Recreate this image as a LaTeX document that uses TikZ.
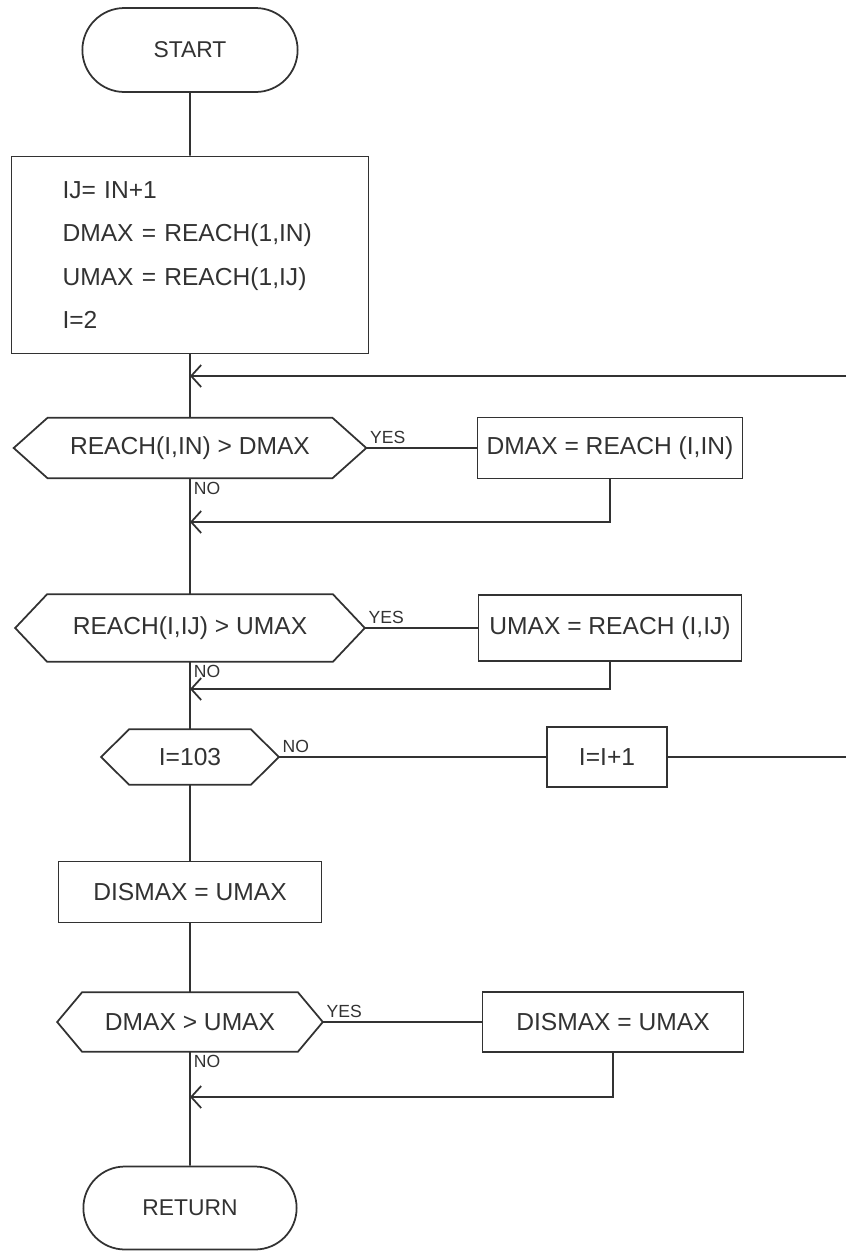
\documentclass[tikz,border=0pt]{standalone}
\usepackage{fontspec}
\setmainfont{Liberation Sans}
\usepackage{tikz}
\usetikzlibrary{shapes.misc, arrows.meta}
\definecolor{Ink}{RGB}{50,50,50}
% outline of a decision node: name, depth of the side points
\newcommand{\testoutline}[2]{%
  \draw[flow] (#1.west) -- ([xshift=#2]#1.north west)
    -- ([xshift=-#2]#1.north east) -- (#1.east)
    -- ([xshift=-#2]#1.south east) -- ([xshift=#2]#1.south west) -- cycle;}

\begin{document}
\begin{tikzpicture}[x=0.02cm, y=-0.02cm,
      term/.style={rounded rectangle, draw=Ink, line width=1pt, text=Ink,
                   minimum width=4.54cm, minimum height=1.68cm,
                   font=\fontsize{13}{16}\selectfont},
      proc/.style={rectangle, draw=Ink, line width=1pt, text=Ink,
                   font=\fontsize{14}{17}\selectfont},
      test/.style 2 args={rectangle, text=Ink, minimum width=#1,
                   minimum height=#2, inner sep=0pt,
                   font=\fontsize{14}{17}\selectfont},
      flow/.style={draw=Ink, line width=1pt},
      back/.style={flow, -{Straight Barb[length=2mm, width=4.4mm]}},
      lbl/.style={font=\fontsize{10}{11}\selectfont, text=Ink, inner sep=2pt}
    ]
    \useasboundingbox (0,0) rectangle (846,1252);

    % Main column
    \node[term] (start) at (190,50) {START};
    \node[proc, minimum width=7.14cm, minimum height=3.94cm, text width=5.1cm,
          align=left, font=\fontsize{14}{24.6}\selectfont] (init) at (190,255)
        {IJ= IN+1\\DMAX = REACH(1,IN)\\UMAX = REACH(1,IJ)\\I=2};
    \node[test={7.04cm}{1.2cm}]  (d1) at (190,448) {REACH(I,IN) > DMAX};
    \node[test={6.98cm}{1.34cm}] (d2) at (190,628) {REACH(I,IJ) > UMAX};
    \node[test={3.54cm}{1.1cm}]  (d3) at (190,757) {I=103};
    \node[proc, minimum width=5.26cm, minimum height=1.22cm] (b4) at (190,892)
        {DISMAX = UMAX};
    \node[test={5.3cm}{1.18cm}]  (d4) at (190,1022) {DMAX > UMAX};
    \node[term, minimum width=4.5cm, minimum height=1.66cm] (ret) at (190,1208)
        {RETURN};

    % Decision outlines
    \testoutline{d1}{0.68cm}
    \testoutline{d2}{0.64cm}
    \testoutline{d3}{0.56cm}
    \testoutline{d4}{0.5cm}

    % Right column
    \node[proc, minimum width=5.3cm, minimum height=1.22cm] (b1) at (610,448)
        {DMAX = REACH (I,IN)};
    \node[proc, minimum width=5.26cm, minimum height=1.32cm] (b2) at (610,628)
        {UMAX = REACH (I,IJ)};
    \node[proc, minimum width=2.4cm, minimum height=1.2cm] (b3) at (607,757)
        {I=I+1};
    \node[proc, minimum width=5.22cm, minimum height=1.2cm] (b5) at (613,1022)
        {DISMAX = UMAX};

    % Joins
    \coordinate (j1) at (190,376);
    \coordinate (loopR) at (846,376);
    \coordinate (j2) at (190,522);
    \coordinate (j3) at (190,689);
    \coordinate (loopR2) at (846,757);
    \coordinate (j4) at (190,1097);

    % Connectors
    \draw[flow] (start) -- (init);
    \draw[flow] (init) -- (d1);
    \draw[back] (loopR) -- (j1);
    \draw[flow] (d1) -- (b1);
    \draw[back] (b1.south) |- (j2);
    \draw[flow] (d1) -- (d2);
    \draw[flow] (d2) -- (b2);
    \draw[back] (b2.south) |- (j3);
    \draw[flow] (d2) -- (d3);
    \draw[flow] (d3) -- (b3);
    \draw[flow] (b3) -- (loopR2);
    \draw[flow] (d3) -- (b4);
    \draw[flow] (b4) -- (d4);
    \draw[flow] (d4) -- (b5);
    \draw[back] (b5.south) |- (j4);
    \draw[flow] (d4) -- (ret);

    % Yes / No
    \node[lbl, anchor=south west] (y1) at (d1.east) {YES};
    \node[lbl, anchor=north west] (n1) at (d1.south) {NO};
    \node[lbl, anchor=south west] (y2) at (d2.east) {YES};
    \node[lbl, anchor=north west] (n2) at (d2.south) {NO};
    \node[lbl, anchor=south west] (n3) at (d3.east) {NO};
    \node[lbl, anchor=south west] (y4) at (d4.east) {YES};
    \node[lbl, anchor=north west] (n4) at (d4.south) {NO};
  \end{tikzpicture}
\end{document}
